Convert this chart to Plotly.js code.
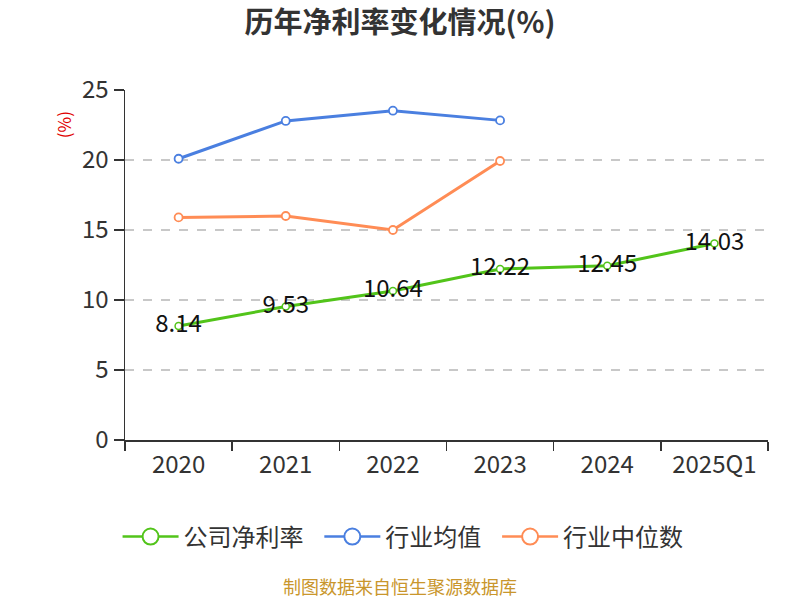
<!DOCTYPE html>
<html>
<head>
<meta charset="utf-8">
<script src="https://cdn.plot.ly/plotly-3.0.1.min.js"></script>
<style>html,body{margin:0;padding:0;background:#fff;}#chart{width:800px;height:600px;}</style>
</head>
<body>
<div id="chart"></div>
<script>
var categories = ["2020", "2021", "2022", "2023", "2024", "2025Q1"];
var companyRate = [8.14, 9.53, 10.64, 12.22, 12.45, 14.03];
var industryAvg = [20.09, 22.79, 23.52, 22.83];
var industryMedian = [15.9, 16.0, 15.0, 19.93];
var yTicks = [0, 5, 10, 15, 20, 25];
var seriesNames = ["公司净利率", "行业均值", "行业中位数"];
var seriesColors = ["#52c41a", "#4a7fe0", "#ff8c55"];

var font = "'Noto Sans CJK SC', 'Noto Sans', sans-serif";

var traces = [
  {
    name: seriesNames[0], x: categories, y: companyRate, type: "scatter", mode: "lines+markers+text",
    text: companyRate.map(function(v){ return v.toFixed(2); }),
    textposition: "middle center",
    textfont: {size: 24, color: "#111", family: font},
    line: {color: seriesColors[0], width: 3},
    marker: {symbol: "circle", size: 7, color: "#fff", line: {color: seriesColors[0], width: 1.5}},
    cliponaxis: false, showlegend: false
  },
  {
    name: seriesNames[1], x: categories.slice(0, industryAvg.length), y: industryAvg, type: "scatter", mode: "lines+markers",
    line: {color: seriesColors[1], width: 3},
    marker: {symbol: "circle", size: 8, color: "#fff", line: {color: seriesColors[1], width: 1.8}},
    showlegend: false
  },
  {
    name: seriesNames[2], x: categories.slice(0, industryMedian.length), y: industryMedian, type: "scatter", mode: "lines+markers",
    line: {color: seriesColors[2], width: 3},
    marker: {symbol: "circle", size: 8, color: "#fff", line: {color: seriesColors[2], width: 1.8}},
    showlegend: false
  }
];
// legend-only entries (larger legend symbols); trailing nbsp widens the gap between entries
seriesNames.forEach(function(n, i){
  traces.push({
    name: n + "\u00a0\u00a0", x: [null], y: [null], type: "scatter", mode: "lines+markers",
    line: {color: seriesColors[i], width: 2.5},
    marker: {symbol: "circle", size: 16, color: "#fff", line: {color: seriesColors[i], width: 2}},
    hoverinfo: "skip"
  });
});

var layout = {
  width: 800, height: 600,
  margin: {l: 125, r: 32, t: 90, b: 160},
  paper_bgcolor: "#fff", plot_bgcolor: "#fff",
  font: {family: font, color: "#333"},
  title: {text: "<b>历年净利率变化情况(%)</b>", x: 0.5, xanchor: "center", y: 0.962, yanchor: "middle",
          font: {size: 29, color: "#333", family: font}},
  xaxis: {
    type: "category", categoryorder: "array", categoryarray: categories,
    range: [-0.5, 5.5], tickson: "boundaries",
    ticks: "outside", ticklen: 9, tickwidth: 1.5, tickcolor: "#333",
    showline: true, linecolor: "#333", linewidth: 1.5,
    showgrid: false, zeroline: false, ticklabelstandoff: 3,
    tickfont: {size: 24, color: "#333", family: font}
  },
  yaxis: {
    range: [0, 25], tickvals: yTicks, ticktext: yTicks.map(String),
    ticks: "outside", ticklen: 10, tickwidth: 1.5, tickcolor: "#333",
    showline: true, linecolor: "#333", linewidth: 1.5,
    showgrid: true, gridcolor: "#c8c8c8", griddash: "dash", gridwidth: 1.2,
    zeroline: false,
    tickfont: {size: 24, color: "#333", family: font}
  },
  showlegend: true,
  legend: {orientation: "h", x: 0.441, xanchor: "center", y: -0.277, yanchor: "middle",
           font: {size: 24, color: "#333", family: font}, itemwidth: 56, tracegroupgap: 0},
  annotations: [
    {text: "(%)", xref: "paper", yref: "paper", x: -0.096, y: 0.9, xanchor: "center", yanchor: "middle",
     textangle: -90, showarrow: false, font: {size: 17, color: "#e00000", family: font}},
    {text: "制图数据来自恒生聚源数据库", xref: "paper", yref: "paper", x: 0.4277, y: -0.418, xanchor: "center", yanchor: "middle",
     showarrow: false, font: {size: 18, color: "#c9962c", family: font}}
  ]
};

Plotly.newPlot("chart", traces, layout, {displayModeBar: false, staticPlot: true});
</script>
</body>
</html>
